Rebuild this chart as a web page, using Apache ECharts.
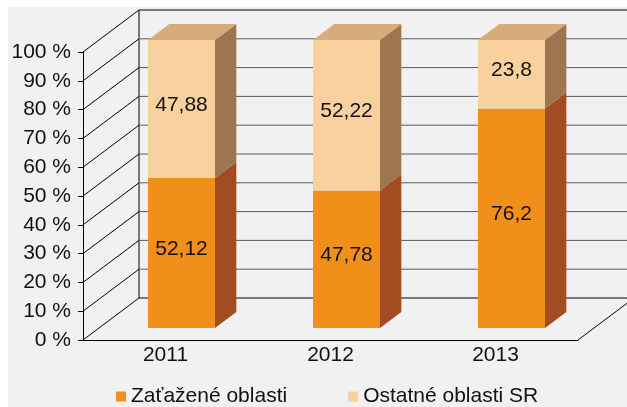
<!DOCTYPE html>
<html lang="sk">
<head>
<meta charset="utf-8">
<title>Zaťažené oblasti</title>
<script src="https://cdn.jsdelivr.net/npm/echarts@6/dist/echarts.min.js"></script>
<style>
  html, body { margin: 0; padding: 0; background: #fff; }
  #chart { width: 627px; height: 407px; }
</style>
</head>
<body>
<div id="chart"></div>
<script>
// data
var years = ['2011', '2012', '2013'];
var zatazene = [52.12, 47.78, 76.2];
var ostatne = [47.88, 52.22, 23.8];
var yTicks = [0, 10, 20, 30, 40, 50, 60, 70, 80, 90, 100];
var seriesNames = ['Zaťažené oblasti', 'Ostatné oblasti SR'];

// 3d look: depth offset of the back wall, bar position in depth
var DX = 56, DY = -42;
var F0 = 12 / 42, F1 = 28 / 42;
var BAR_RATIO = 0.406;
var FONT = "'Liberation Sans', Arial, Helvetica, sans-serif";

var wallData = yTicks.map(function (v) { return [0, v]; });
var lowData = years.map(function (y, i) { return [i, 0, zatazene[i], zatazene[i]]; });
var highData = years.map(function (y, i) { return [i, zatazene[i], zatazene[i] + ostatne[i], ostatne[i]]; });

function renderWall(params, api) {
  var cs = params.coordSys;
  var v = api.value(1);
  var y = api.coord([0, v])[1];
  var left = cs.x, right = cs.x + cs.width;
  var edge = (v === yTicks[0] || v === yTicks[yTicks.length - 1]);
  var children = [
    { type: 'line', shape: { x1: left, y1: y, x2: left + DX, y2: y + DY },
      style: { stroke: '#000', lineWidth: 1 } },
    { type: 'line', shape: { x1: left + DX, y1: y + DY, x2: right + DX, y2: y + DY },
      style: { stroke: edge ? '#000' : '#5a5a5a', lineWidth: 1 } }
  ];
  if (v === yTicks[0]) {
    var yTop = api.coord([0, yTicks[yTicks.length - 1]])[1];
    children.push({ type: 'line', shape: { x1: right, y1: y, x2: right + DX, y2: y + DY },
      style: { stroke: '#000', lineWidth: 1 } });
    children.push({ type: 'line', shape: { x1: left + DX, y1: y + DY, x2: left + DX, y2: yTop + DY },
      style: { stroke: '#000', lineWidth: 1 } });
  }
  return { type: 'group', children: children };
}

function makeBarRenderer(front, side, top, drawTop) {
  return function (params, api) {
    var i = api.value(0), lo = api.value(1), hi = api.value(2), lab = api.value(3);
    var w = api.size([1, 0])[0] * BAR_RATIO;
    var c = api.coord([i, 0])[0] + DX * F0;
    var x0 = c - w / 2, x1 = c + w / 2;
    var yLo = api.coord([i, lo])[1] + DY * F0;
    var yHi = api.coord([i, hi])[1] + DY * F0;
    var dx = DX * (F1 - F0), dy = DY * (F1 - F0);
    var children = [
      { type: 'polygon', shape: { points: [[x1, yLo], [x1 + dx, yLo + dy], [x1 + dx, yHi + dy], [x1, yHi]] },
        style: { fill: side } }
    ];
    if (drawTop) {
      children.push({ type: 'polygon', shape: { points: [[x0, yHi], [x0 + dx, yHi + dy], [x1 + dx, yHi + dy], [x1, yHi]] },
        style: { fill: top } });
    }
    children.push({ type: 'rect', shape: { x: x0, y: yHi, width: w, height: yLo - yHi },
      style: { fill: front } });
    children.push({ type: 'text', x: c, y: (yLo + yHi) / 2 - 4,
      style: { text: String(lab).replace('.', ','), fill: '#111', font: '21px ' + FONT,
        align: 'center', verticalAlign: 'middle' } });
    return { type: 'group', children: children };
  };
}

var chart = echarts.init(document.getElementById('chart'), null, { renderer: 'canvas' });
chart.setOption({
  animation: false,
  backgroundColor: 'transparent',
  textStyle: { fontFamily: FONT },
  graphic: [{
    type: 'rect', z: -10, shape: { x: 8, y: 7, width: 627, height: 407 },
    style: { fill: '#f1f1f1' }, silent: true
  }],
  grid: { left: 83, right: 49, top: 52, bottom: 67, containLabel: false },
  legend: {
    data: seriesNames, left: 116, top: 386, padding: 0,
    icon: 'rect', itemWidth: 10, itemHeight: 10, itemGap: 61,
    textStyle: { fontSize: 21, color: '#111', fontFamily: FONT }
  },
  xAxis: {
    type: 'category', data: years,
    axisLine: { lineStyle: { color: '#000', width: 1 } },
    axisTick: { length: 5, lineStyle: { color: '#000' } },
    axisLabel: { fontSize: 21, color: '#111', margin: 5 },
    splitLine: { show: false }
  },
  yAxis: {
    type: 'value', min: 0, max: 100, interval: 10,
    axisLine: { show: true, lineStyle: { color: '#000', width: 1 } },
    axisTick: { show: true, length: 5, lineStyle: { color: '#000' } },
    axisLabel: { fontSize: 21, color: '#111', margin: 12, formatter: '{value} %' },
    splitLine: { show: false }
  },
  series: [
    {
      type: 'custom', name: 'walls', data: wallData, z: 1, silent: true,
      encode: { x: 0, y: 1 }, renderItem: renderWall
    },
    {
      type: 'custom', name: seriesNames[0], data: lowData, z: 3,
      itemStyle: { color: '#f0901a' },
      encode: { x: 0, y: 2 }, renderItem: makeBarRenderer('#f0901a', '#a24c21', '#d8ac7a', false)
    },
    {
      type: 'custom', name: seriesNames[1], data: highData, z: 3,
      itemStyle: { color: '#f9d19f' },
      encode: { x: 0, y: 2 }, renderItem: makeBarRenderer('#f9d19f', '#9d754e', '#d8ac7a', true)
    }
  ]
});
</script>
</body>
</html>
